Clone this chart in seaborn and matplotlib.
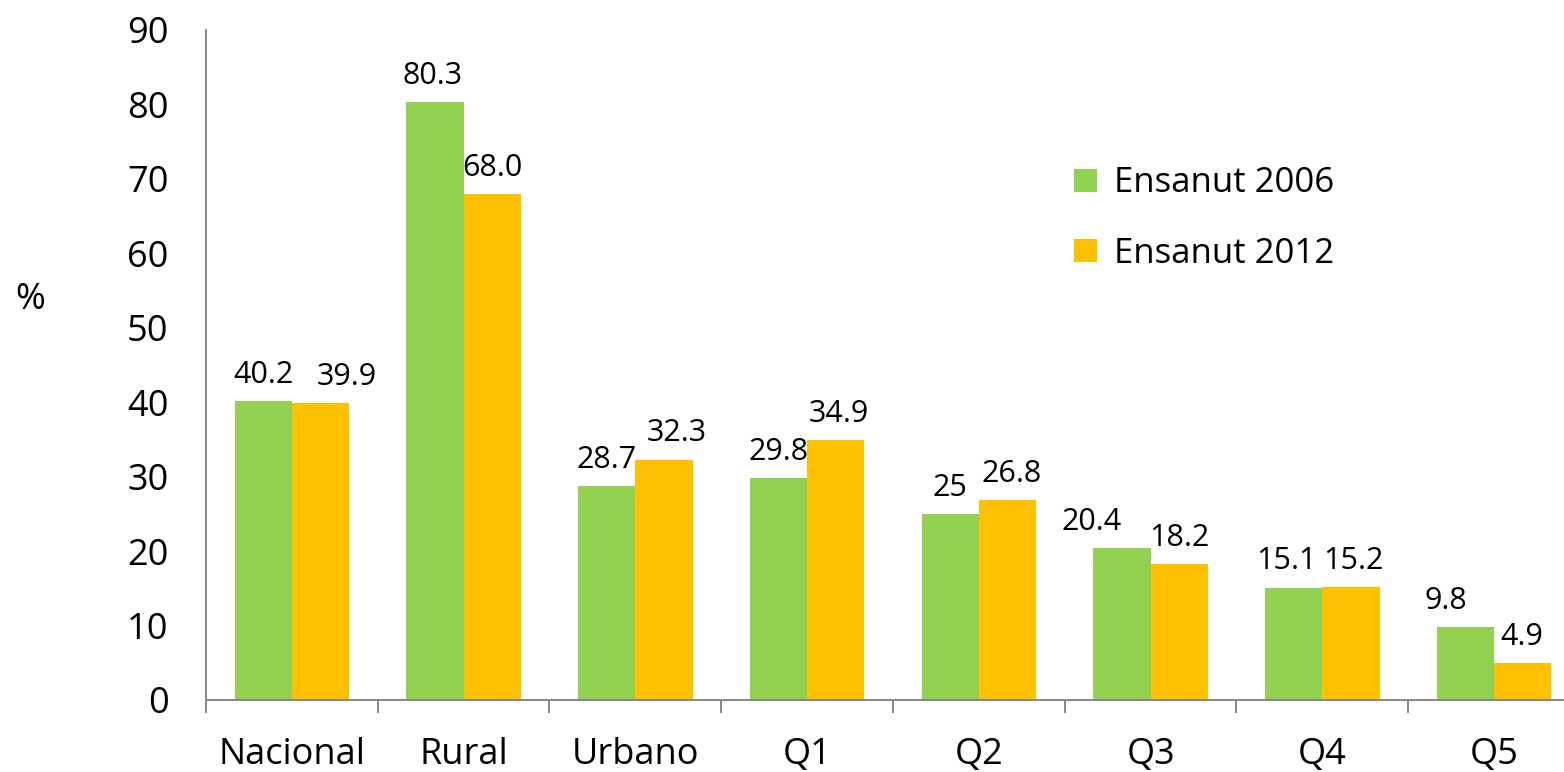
import matplotlib
matplotlib.use("Agg")
import matplotlib.pyplot as plt
import pandas as pd
import seaborn as sns
from matplotlib.ticker import FixedLocator

# datos
categorias = ["Nacional", "Rural", "Urbano", "Q1", "Q2", "Q3", "Q4", "Q5"]
ensanut_2006 = [40.2, 80.3, 28.7, 29.8, 25.0, 20.4, 15.1, 9.8]
ensanut_2012 = [39.9, 68.0, 32.3, 34.9, 26.8, 18.2, 15.2, 4.9]
etiquetas_2006 = ["40.2", "80.3", "28.7", "29.8", "25", "20.4", "15.1", "9.8"]
etiquetas_2012 = ["39.9", "68.0", "32.3", "34.9", "26.8", "18.2", "15.2", "4.9"]
series = ["Ensanut 2006", "Ensanut 2012"]
colores = ["#92D050", "#FFC000"]

# desplazamiento horizontal de etiquetas (puntos) para que no se encimen
desp_2006 = [0, -2, 0, 0, 0, -22, -5, -14]
desp_2012 = [19, 0, 9, 2, 3, 0, 2, -1]

df = pd.DataFrame({
    "categoria": categorias * 2,
    "valor": ensanut_2006 + ensanut_2012,
    "serie": [series[0]] * len(categorias) + [series[1]] * len(categorias),
})

sns.set_style("white")
plt.rcParams["font.family"] = ["Open Sans", "DejaVu Sans"]
plt.rcParams["text.color"] = "black"
plt.rcParams["xtick.labelcolor"] = "black"
plt.rcParams["ytick.labelcolor"] = "black"

fig = plt.figure(figsize=(15.64, 7.72), dpi=100)
ax = fig.add_axes([0.1317, 0.0933, 0.8785, 0.8679])

sns.barplot(data=df, x="categoria", y="valor", hue="serie", palette=colores,
            width=0.667, linewidth=0, saturation=1, ax=ax)

# etiquetas de datos
for cont, etiq, desp in zip(ax.containers, [etiquetas_2006, etiquetas_2012], [desp_2006, desp_2012]):
    textos = ax.bar_label(cont, labels=etiq, padding=8, fontsize=22, color="black")
    for t, d in zip(textos, desp):
        t.xyann = (d, 8)

ax.set_ylim(0, 90)
ax.set_xlim(-0.5, len(categorias) - 0.5)
ax.set_yticks(range(0, 91, 10))
ax.tick_params(axis="y", labelsize=26, length=9, width=1.4, color="#868686", pad=18)
ax.tick_params(axis="x", which="major", labelsize=26, length=0, pad=27)
ax.xaxis.set_minor_locator(FixedLocator([i - 0.5 for i in range(len(categorias) + 1)]))
ax.tick_params(axis="x", which="minor", length=9, width=1.4, color="#868686", bottom=True)

for s in ["top", "right"]:
    ax.spines[s].set_visible(False)
for s in ["left", "bottom"]:
    ax.spines[s].set_color("#868686")
    ax.spines[s].set_linewidth(1.4)

ax.set_xlabel("")
ax.set_ylabel("%", rotation=0, fontsize=26, color="black")
ax.yaxis.set_label_coords(-0.128, 0.57)

leg = ax.legend(loc="upper left", bbox_to_anchor=(0.667, 0.825), bbox_transform=fig.transFigure,
                frameon=False, fontsize=25, handlelength=0.65, handleheight=0.65,
                handletextpad=0.5, labelspacing=1.05)

fig.savefig("out.png", dpi=100)
